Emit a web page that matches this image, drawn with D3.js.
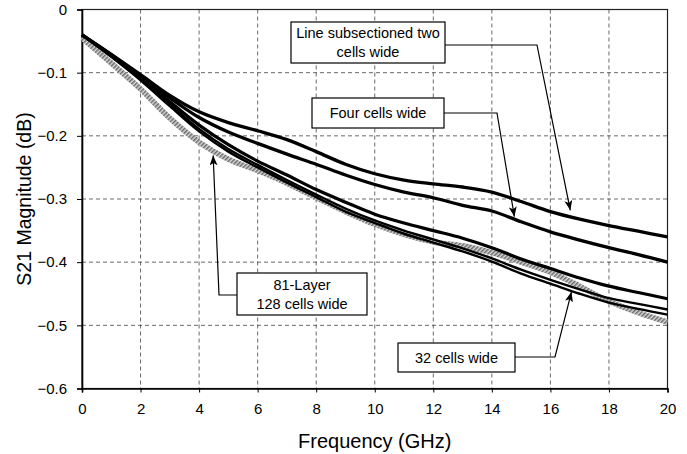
<!DOCTYPE html>
<html>
<head>
<meta charset="utf-8">
<script src="https://cdn.jsdelivr.net/npm/d3@7"></script>
<style>
  body { margin: 0; background: #fff; }
  svg { display: block; font-family: "Liberation Sans", Arial, sans-serif; }
</style>
</head>
<body>
<div id="chart"></div>
<script>
'use strict';

// frequency points (GHz)
var freq = [0, 1, 2, 3, 4, 5, 6, 7, 8, 9, 10, 11, 12, 13, 14, 15, 16, 17, 18, 19, 20];

// S21 magnitude (dB)
var twoCells   = [-0.04, -0.071, -0.103, -0.136, -0.162, -0.179, -0.192, -0.206, -0.225, -0.245, -0.26, -0.27, -0.276, -0.281, -0.289, -0.304, -0.32, -0.332, -0.342, -0.351, -0.36];
var fourCells  = [-0.04, -0.072, -0.105, -0.14, -0.171, -0.194, -0.212, -0.229, -0.245, -0.262, -0.277, -0.289, -0.298, -0.31, -0.319, -0.336, -0.352, -0.365, -0.377, -0.388, -0.4];
var midLine    = [-0.04, -0.073, -0.107, -0.146, -0.183, -0.214, -0.24, -0.262, -0.285, -0.305, -0.324, -0.338, -0.35, -0.362, -0.377, -0.395, -0.41, -0.425, -0.438, -0.448, -0.458];
var cells32a   = [-0.04, -0.074, -0.11, -0.15, -0.189, -0.221, -0.246, -0.27, -0.293, -0.315, -0.334, -0.35, -0.364, -0.378, -0.394, -0.412, -0.428, -0.443, -0.457, -0.466, -0.475];
var cells32b   = [-0.04, -0.075, -0.112, -0.153, -0.193, -0.225, -0.25, -0.274, -0.297, -0.32, -0.338, -0.355, -0.369, -0.383, -0.399, -0.418, -0.434, -0.45, -0.464, -0.474, -0.483];
var layer81    = [-0.045, -0.085, -0.126, -0.172, -0.21, -0.237, -0.255, -0.275, -0.298, -0.32, -0.34, -0.356, -0.368, -0.374, -0.385, -0.4, -0.416, -0.438, -0.462, -0.48, -0.495];

var xTicks = [0, 2, 4, 6, 8, 10, 12, 14, 16, 18, 20];
var yTicks = [0, -0.1, -0.2, -0.3, -0.4, -0.5, -0.6];

var W = 687, H = 454;
var margin = {top: 9.5, right: 19.5, bottom: 65.5, left: 82};
var iw = W - margin.left - margin.right;
var ih = H - margin.top - margin.bottom;

var svg = d3.select('#chart').append('svg')
  .attr('width', W)
  .attr('height', H);

var defs = svg.append('defs');

defs.append('pattern')
  .attr('id', 'hatch')
  .attr('patternUnits', 'userSpaceOnUse')
  .attr('width', 3)
  .attr('height', 3)
  .attr('patternTransform', 'rotate(45)')
  .call(function (p) {
    p.append('rect').attr('width', 3).attr('height', 3).attr('fill', '#d8d8d8');
    p.append('rect').attr('width', 1.5).attr('height', 3).attr('fill', '#6a6a6a');
  });

defs.append('marker')
  .attr('id', 'arrow')
  .attr('viewBox', '0 0 10 8')
  .attr('refX', 10)
  .attr('refY', 4)
  .attr('markerWidth', 10)
  .attr('markerHeight', 8)
  .attr('markerUnits', 'userSpaceOnUse')
  .attr('orient', 'auto')
  .append('path')
  .attr('d', 'M0,0 L10,4 L0,8 L2.5,4 Z')
  .attr('fill', '#000');

var g = svg.append('g')
  .attr('transform', 'translate(' + margin.left + ',' + margin.top + ')');

var x = d3.scaleLinear().domain([0, 20]).range([0, iw]);
var y = d3.scaleLinear().domain([-0.6, 0]).range([ih, 0]);

// grid
g.append('g')
  .selectAll('line')
  .data(xTicks.slice(1, -1))
  .join('line')
  .attr('x1', function (d) { return x(d); })
  .attr('x2', function (d) { return x(d); })
  .attr('y1', 0)
  .attr('y2', ih)
  .attr('stroke', '#444')
  .attr('stroke-width', 0.8)
  .attr('stroke-dasharray', '4,3');

g.append('g')
  .selectAll('line')
  .data(yTicks.slice(1, -1))
  .join('line')
  .attr('x1', 0)
  .attr('x2', iw)
  .attr('y1', function (d) { return y(d); })
  .attr('y2', function (d) { return y(d); })
  .attr('stroke', '#444')
  .attr('stroke-width', 0.8)
  .attr('stroke-dasharray', '4,3');

// plot frame
g.append('rect')
  .attr('width', iw)
  .attr('height', ih)
  .attr('fill', 'none')
  .attr('stroke', '#222')
  .attr('stroke-width', 1.2);

// axes
var xAxis = g.append('g')
  .attr('transform', 'translate(0,' + ih + ')')
  .call(d3.axisBottom(x).tickValues(xTicks).tickSize(4).tickPadding(11).tickFormat(d3.format('d')));

var yAxis = g.append('g')
  .call(d3.axisLeft(y).tickValues(yTicks).tickSize(5).tickPadding(10)
    .tickFormat(function (d) { return d === 0 ? '0' : d3.format('.1f')(d); }));

[xAxis, yAxis].forEach(function (a) {
  a.select('.domain').attr('stroke', '#000').attr('stroke-width', 1.6);
  a.selectAll('.tick line').attr('stroke', '#000');
  a.selectAll('.tick text')
    .attr('font-size', 15)
    .attr('font-family', '"Liberation Sans", Arial, sans-serif')
    .attr('fill', '#000');
});

// curves
var line = d3.line()
  .x(function (d, i) { return x(freq[i]); })
  .y(function (d) { return y(d); })
  .curve(d3.curveCatmullRom);

g.append('path')
  .attr('d', line(layer81))
  .attr('fill', 'none')
  .attr('stroke', 'url(#hatch)')
  .attr('stroke-width', 5.5);

var blackSeries = [
  {vals: twoCells, w: 3.3},
  {vals: fourCells, w: 3.3},
  {vals: midLine, w: 3.2},
  {vals: cells32a, w: 2.4},
  {vals: cells32b, w: 2.4}
];

g.selectAll('path.series')
  .data(blackSeries)
  .join('path')
  .attr('class', 'series')
  .attr('d', function (d) { return line(d.vals); })
  .attr('fill', 'none')
  .attr('stroke', '#000')
  .attr('stroke-width', function (d) { return d.w; });

// callouts: boxes in pixels, arrow tips in data units
var callouts = [
  {lines: ['Line subsectioned two', 'cells wide'], box: [291, 22, 154, 41], leader: [[445, 45], [537, 45]], tip: [16.68, -0.318]},
  {lines: ['Four cells wide'], box: [312, 98, 132, 30], leader: [[444, 113], [497, 113]], tip: [14.77, -0.328]},
  {lines: ['81-Layer', '128 cells wide'], box: [237, 273, 130, 42], leader: [[237, 295], [219, 295]], tip: [4.48, -0.231]},
  {lines: ['32 cells wide'], box: [398, 343, 117, 29], leader: [[515, 357], [555, 357]], tip: [16.72, -0.447]}
];

callouts.forEach(function (c) {
  var pts = c.leader.concat([[margin.left + x(c.tip[0]), margin.top + y(c.tip[1])]]);
  svg.append('path')
    .attr('d', d3.line()(pts))
    .attr('fill', 'none')
    .attr('stroke', '#000')
    .attr('stroke-width', 1.2)
    .attr('marker-end', 'url(#arrow)');

  svg.append('rect')
    .attr('x', c.box[0])
    .attr('y', c.box[1])
    .attr('width', c.box[2])
    .attr('height', c.box[3])
    .attr('fill', '#fff')
    .attr('stroke', '#000')
    .attr('stroke-width', 1.2);

  var cx = c.box[0] + c.box[2] / 2;
  var cy = c.box[1] + c.box[3] / 2;
  var lh = 19;
  c.lines.forEach(function (t, i) {
    svg.append('text')
      .attr('x', cx)
      .attr('y', cy + (i - (c.lines.length - 1) / 2) * lh + 5)
      .attr('text-anchor', 'middle')
      .attr('font-size', 14.5)
      .attr('fill', '#000')
      .text(t);
  });
});

// axis titles
svg.append('text')
  .attr('x', margin.left + iw / 2)
  .attr('y', 448)
  .attr('text-anchor', 'middle')
  .attr('font-size', 20)
  .text('Frequency (GHz)');

svg.append('text')
  .attr('transform', 'translate(31,' + (margin.top + ih / 2) + ') rotate(-90)')
  .attr('text-anchor', 'middle')
  .attr('font-size', 19.5)
  .text('S21 Magnitude (dB)');
</script>
</body>
</html>
